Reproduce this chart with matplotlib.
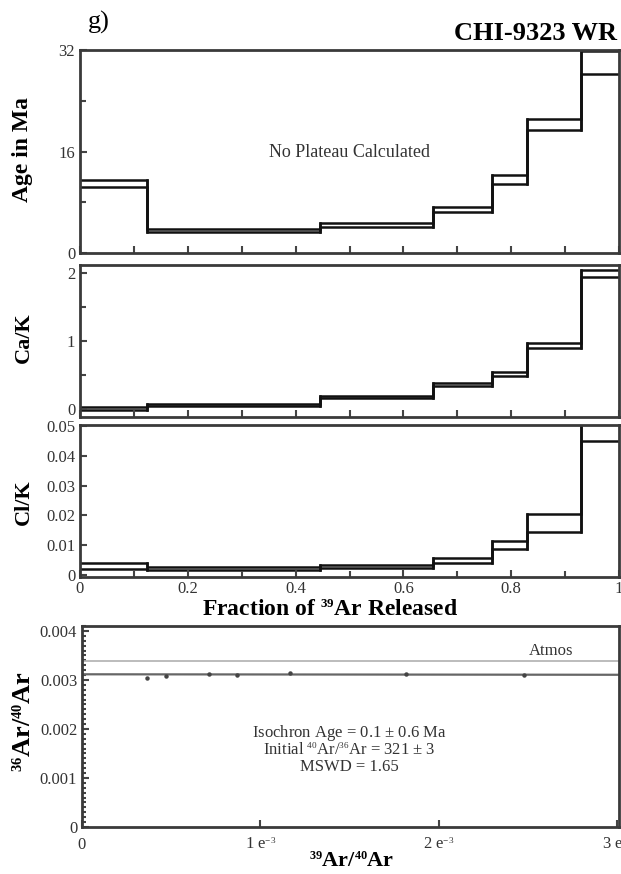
import numpy as np
import matplotlib
from matplotlib import pyplot as plt
from matplotlib.ticker import MultipleLocator, FixedLocator

plt.rcParams['font.family'] = ['Liberation Serif', 'DejaVu Serif']
plt.rcParams['mathtext.fontset'] = 'custom'
plt.rcParams['mathtext.rm'] = 'Liberation Serif'
plt.rcParams['mathtext.bf'] = 'Liberation Serif:bold'
plt.rcParams['mathtext.default'] = 'regular'
# the original figure uses very small isotope superscripts
matplotlib._mathtext.SHRINK_FACTOR = 0.55

# step boundaries (cumulative fraction of 39Ar released)
step_edges = [0, 0.125, 0.445, 0.655, 0.765, 0.83, 0.93, 1.0]

# age spectrum, upper / lower envelope (Ma)
age_hi = [11.5, 3.8, 4.7, 7.3, 12.3, 21.2, 31.8]
age_lo = [10.4, 3.35, 4.15, 6.4, 10.9, 19.4, 28.2]

# Ca/K envelope
cak_hi = [0.025, 0.07, 0.19, 0.38, 0.55, 0.97, 2.04]
cak_lo = [-0.01, 0.035, 0.157, 0.33, 0.49, 0.89, 1.94]

# Cl/K envelope
clk_hi = [0.0039, 0.0026, 0.0033, 0.0056, 0.0113, 0.0206, 0.0515]
clk_lo = [0.0020, 0.0014, 0.0022, 0.0039, 0.0087, 0.0144, 0.0450]

# isochron data
iso_x = [0.000366, 0.000472, 0.000714, 0.000869, 0.001164, 0.001814, 0.002479]
iso_y = [0.00304, 0.00309, 0.00313, 0.00310, 0.00314, 0.00313, 0.00310]
fit_x = [0.0, 0.00301]
fit_y = [0.003115, 0.003105]
atmos_y = 0.003384

W, H = 621, 874
fig = plt.figure(figsize=(W / 100, H / 100), dpi=100)


def ax_at(x0, y0, x1, y1):
    return fig.add_axes([x0 / W, 1 - y1 / H, (x1 - x0) / W, (y1 - y0) / H])


def put_ylabel(ax, text, y_px, size, x_px=34):
    ax.set_ylabel(text, fontsize=size, fontweight='bold')
    ax.yaxis.set_label_coords(x_px / W, 1 - y_px / H, transform=fig.transFigure)


spine_col = '#3a3a3a'
tick_col = '#444444'


def style(ax):
    for s in ax.spines.values():
        s.set_linewidth(2.0)
        s.set_color(spine_col)
    ax.tick_params(direction='in', colors=tick_col, labelcolor='#333333',
                   labelsize=12, width=1.5, length=5, right=False, top=False)
    ax.tick_params(which='minor', direction='in', width=1.5, length=4,
                   colors=tick_col)


def draw_steps(ax, hi, lo):
    hx = step_edges
    ax.stairs(hi, hx, color='#111111', lw=1.8, baseline=None)
    ax.stairs(lo, hx, color='#111111', lw=1.8, baseline=None)
    # vertical connectors at each boundary
    for i in range(1, len(hi)):
        vals = [hi[i - 1], lo[i - 1], hi[i], lo[i]]
        ax.plot([hx[i], hx[i]], [min(vals), max(vals)], color='#111111', lw=1.8)
    ax.set_xlim(0, 1)


# panel 1: age spectrum
ax1 = ax_at(80, 50, 619, 253)
draw_steps(ax1, age_hi, age_lo)
ax1.set_ylim(0, 32)
ax1.yaxis.set_major_locator(FixedLocator([0, 16, 32]))
ax1.yaxis.set_minor_locator(FixedLocator([8, 24]))
ax1.xaxis.set_major_locator(MultipleLocator(0.1))
ax1.set_xticklabels([])
style(ax1)
put_ylabel(ax1, 'Age in Ma', 150, 17, 33)
ax1.text(0.5, 15.8, 'No Plateau Calculated', ha='center', va='center',
         fontsize=13, color='#333333')

# panel 2: Ca/K
ax2 = ax_at(80, 265, 619, 417)
draw_steps(ax2, cak_hi, cak_lo)
ax2.set_ylim(-0.12, 2.12)
ax2.yaxis.set_major_locator(FixedLocator([0, 1, 2]))
ax2.yaxis.set_minor_locator(FixedLocator([0.5, 1.5]))
ax2.xaxis.set_major_locator(MultipleLocator(0.1))
ax2.set_xticklabels([])
style(ax2)
put_ylabel(ax2, 'Ca/K', 338, 16)

# panel 3: Cl/K
ax3 = ax_at(80, 425, 619, 577)
draw_steps(ax3, clk_hi, clk_lo)
ax3.set_ylim(-0.0008, 0.0505)
ax3.yaxis.set_major_locator(FixedLocator([0, 0.01, 0.02, 0.03, 0.04, 0.05]))
ax3.set_yticklabels(['0', '0.01', '0.02', '0.03', '0.04', '0.05'])
ax3.xaxis.set_major_locator(FixedLocator([0, 0.2, 0.4, 0.6, 0.8, 1.0]))
ax3.set_xticklabels(['0', '0.2', '0.4', '0.6', '0.8', '1'])
ax3.xaxis.set_minor_locator(MultipleLocator(0.1))
style(ax3)
ax3.tick_params(axis='x', pad=3)
put_ylabel(ax3, 'Cl/K', 502, 16)
ax3.set_xlabel(r'Fraction of $^{39}$Ar Released', fontsize=17,
               fontweight='bold')
ax3.xaxis.set_label_coords(330 / W, 1 - 599 / H, transform=fig.transFigure)

# panel 4: isochron
ax4 = ax_at(82, 626, 619, 827)
ax4.plot(fit_x, fit_y, color='#666666', lw=1.6)
ax4.axhline(atmos_y, color='#b0b0b0', lw=1.2)
ax4.plot(iso_x, iso_y, ls='none', marker='o', ms=2.2, color='#444444')
ax4.set_xlim(0, 0.00301)
ax4.set_ylim(0, 0.0041)
ax4.yaxis.set_major_locator(FixedLocator([0, 0.001, 0.002, 0.003, 0.004]))
ax4.set_yticklabels(['0', '0.001', '0.002', '0.003', '0.004'])
ax4.yaxis.set_minor_locator(MultipleLocator(0.0001))
ax4.xaxis.set_major_locator(FixedLocator([0, 0.001, 0.002, 0.003]))
ax4.set_xticklabels(['0', r'1 e$^{-3}$', r'2 e$^{-3}$', r'3 e$^{-3}$'])
style(ax4)
ax4.tick_params(axis='x', pad=7)
ax4.tick_params(axis='y', which='minor', length=3)
ax4.text(0.00263, atmos_y + 0.00005, 'Atmos', ha='center', va='bottom',
         fontsize=12, color='#333333')
ax4.text(0.0015, 0.00192, r'Isochron Age = 0.1 $\pm$ 0.6 Ma', ha='center',
         va='center', fontsize=12, color='#333333')
ax4.text(0.0015, 0.00158, r'Initial $^{40}$Ar/$^{36}$Ar = 321 $\pm$ 3',
         ha='center', va='center', fontsize=12, color='#333333')
ax4.text(0.0015, 0.00122, 'MSWD = 1.65', ha='center', va='center',
         fontsize=12, color='#333333')
put_ylabel(ax4, r'$^{36}$Ar/$^{40}$Ar', 722, 19, 36)
ax4.set_xlabel(r'$^{39}$Ar/$^{40}$Ar', fontsize=16, fontweight='bold')
ax4.xaxis.set_label_coords(352 / W, 1 - 852 / H, transform=fig.transFigure)

fig.text(88 / W, 1 - 22 / H, 'g)', fontsize=19, ha='left', va='center')
fig.text(617 / W, 1 - 33 / H, 'CHI-9323 WR', fontsize=19, fontweight='bold',
         ha='right', va='center')

fig.savefig('out.png', dpi=100)
